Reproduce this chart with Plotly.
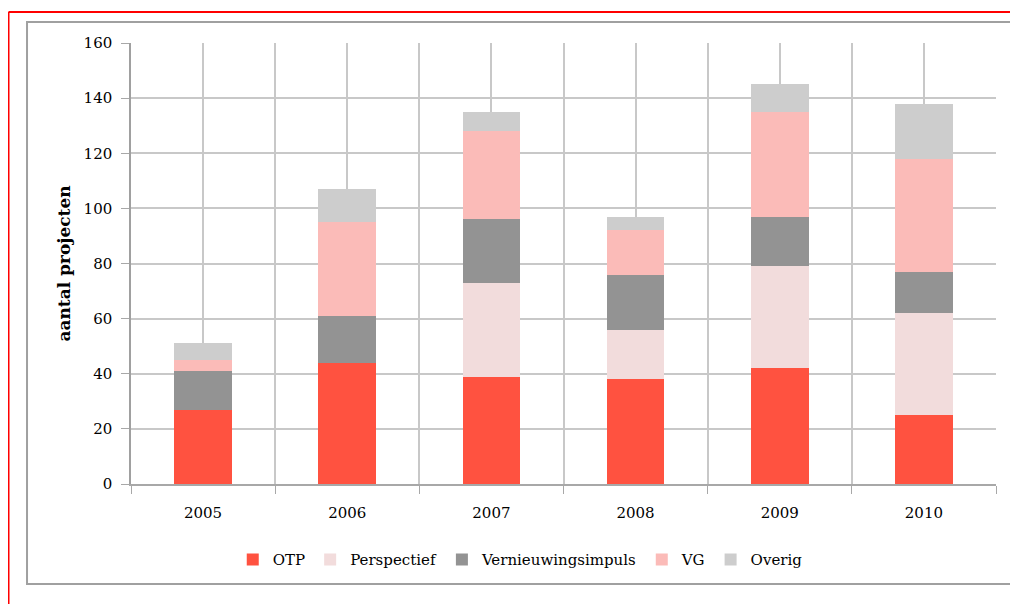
import plotly.graph_objects as go

jaren = [2005, 2006, 2007, 2008, 2009, 2010]
otp = [27, 44, 39, 38, 42, 25]
perspectief = [0, 0, 34, 18, 37, 37]
vernieuwingsimpuls = [14, 17, 23, 20, 18, 15]
vg = [4, 34, 32, 16, 38, 41]
overig = [6, 12, 7, 5, 10, 20]

reeksen = [
    ("OTP", otp, "#ff5240"),
    ("Perspectief", perspectief, "#f2dcdc"),
    ("Vernieuwingsimpuls", vernieuwingsimpuls, "#939393"),
    ("VG", vg, "#fbbbb8"),
    ("Overig", overig, "#cdcdcd"),
]

serif = "'DejaVu Serif', Georgia, serif"

fig = go.Figure()
for naam, waarden, kleur in reeksen:
    fig.add_trace(go.Bar(x=jaren, y=waarden, name=naam, width=0.4,
                         marker=dict(color=kleur, line=dict(width=0))))

# the page puts the figure 8px in from the top-left, so margins are shifted by that
fig.update_layout(
    barmode="stack",
    width=1018, height=604,
    margin=dict(l=123, r=30, t=35, b=128),
    paper_bgcolor="white", plot_bgcolor="white",
    font=dict(family=serif, size=15, color="black"),
    showlegend=True,
    legend=dict(orientation="h", x=0.45, xanchor="center", y=-0.172, yanchor="middle",
                font=dict(size=15), itemwidth=30, traceorder="normal",
                bgcolor="rgba(0,0,0,0)"),
    shapes=[
        # red outer frame
        dict(type="line", xref="paper", yref="paper", x0=-0.1416, x1=1.1,
             y0=1.0703, y1=1.0703, line=dict(color="red", width=2)),
        dict(type="line", xref="paper", yref="paper", x0=-0.1416, x1=-0.1416,
             y0=1.0703, y1=-0.3, line=dict(color="red", width=2)),
        # gray chart box
        dict(type="rect", xref="paper", yref="paper", x0=-0.1202, x1=1.0231,
             y0=1.0476, y1=-0.2268, line=dict(color="#a0a0a0", width=2)),
    ],
)

fig.update_xaxes(
    range=[2004.5, 2010.5], tickmode="array", tickvals=jaren,
    ticks="", showgrid=True, gridcolor="#c8c8c8", gridwidth=1.5,
    showline=True, linecolor="#a8a8a8", linewidth=1.5, mirror=False,
    ticklabelstandoff=14, tickfont=dict(size=15),
    minor=dict(tickmode="array", tickvals=[2004.5 + i for i in range(7)],
               ticks="outside", ticklen=8, tickcolor="#a8a8a8",
               showgrid=True, gridcolor="#c8c8c8", gridwidth=1.5),
    zeroline=False,
)
fig.update_yaxes(
    range=[0, 160], dtick=20, ticks="outside", ticklen=8, tickcolor="#a8a8a8",
    showgrid=True, gridcolor="#c8c8c8", gridwidth=1.5,
    showline=True, linecolor="#a0a0a0", linewidth=1.5,
    ticklabelstandoff=6, zeroline=False,
    title=dict(text="<b>aantal projecten</b>", font=dict(size=17), standoff=9),
)

fig.write_html("out.html")
